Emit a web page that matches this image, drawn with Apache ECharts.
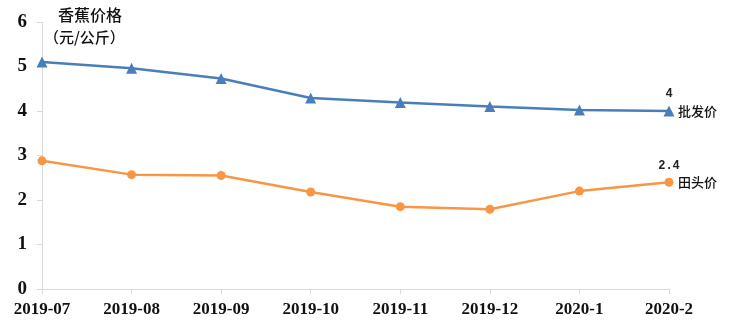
<!DOCTYPE html>
<html><head><meta charset="utf-8">
<script src="https://cdn.jsdelivr.net/npm/echarts@6/dist/echarts.min.js"></script>
<style>html,body{margin:0;padding:0;background:#fff}#c{width:750px;height:328px}</style>
</head><body><div id="c"></div>
<script>
var categories = ['2019-07','2019-08','2019-09','2019-10','2019-11','2019-12','2020-1','2020-2'];
var wholesale = [5.1, 4.96, 4.73, 4.29, 4.19, 4.1, 4.02, 4.0];
var farm = [2.88, 2.57, 2.55, 2.18, 1.85, 1.79, 2.2, 2.4];
var yTicks = [0,1,2,3,4,5,6];
var seriesNames = ['批发价','田头价'];
var font = '"Liberation Serif","Noto Sans CJK SC",serif';
var cjk = '"Noto Sans CJK SC",serif';
function withLast(arr){
  return arr.map(function(v,i){
    if(i===arr.length-1){
      return {value:v,label:{show:true,position:'top',distance:6,fontFamily:'"Liberation Mono",monospace',fontWeight:'bold',fontSize:12,color:'#222',formatter:function(p){return p.value;}}};
    }
    return v;
  });
}
var chart = echarts.init(document.getElementById('c'));
chart.setOption({
  animation:false,
  grid:{left:42,right:81,top:22,bottom:39},
  xAxis:{type:'category',data:categories,boundaryGap:false,
    axisLine:{lineStyle:{color:'#d9d9d9',width:1}},
    axisTick:{show:true,length:5,lineStyle:{color:'#d9d9d9'}},
    axisLabel:{color:'#111',fontFamily:font,fontWeight:'bold',fontSize:17,margin:12,interval:0}},
  yAxis:{type:'value',min:0,max:6,interval:1,
    axisLine:{show:true,lineStyle:{color:'#d9d9d9'}},
    axisTick:{show:true,length:5,lineStyle:{color:'#d9d9d9'}},
    splitLine:{show:false},
    axisLabel:{color:'#111',fontFamily:font,fontWeight:'bold',fontSize:19,margin:15,
      formatter:function(v){return yTicks.indexOf(v)>=0?String(v):'';}}},
  graphic:[
    {type:'text',left:58,top:7,style:{text:'香蕉价格',font:'500 16px '+cjk,fill:'#111'}},
    {type:'text',left:44,top:30,style:{text:'（元/公斤）',font:'500 15px '+cjk,fill:'#111'}}
  ],
  series:[
    {name:seriesNames[0],type:'line',data:withLast(wholesale),symbol:'triangle',symbolSize:11,
      lineStyle:{color:'#4a7ebb',width:2.5},itemStyle:{color:'#4a7ebb'},
      endLabel:{show:true,formatter:'{a}',fontFamily:cjk,fontWeight:500,fontSize:13,color:'#111',distance:9}},
    {name:seriesNames[1],type:'line',data:withLast(farm),symbol:'circle',symbolSize:9,
      lineStyle:{color:'#f79646',width:2.5},itemStyle:{color:'#f79646'},
      endLabel:{show:true,formatter:'{a}',fontFamily:cjk,fontWeight:500,fontSize:13,color:'#111',distance:9}}
  ]
});
</script></body></html>
